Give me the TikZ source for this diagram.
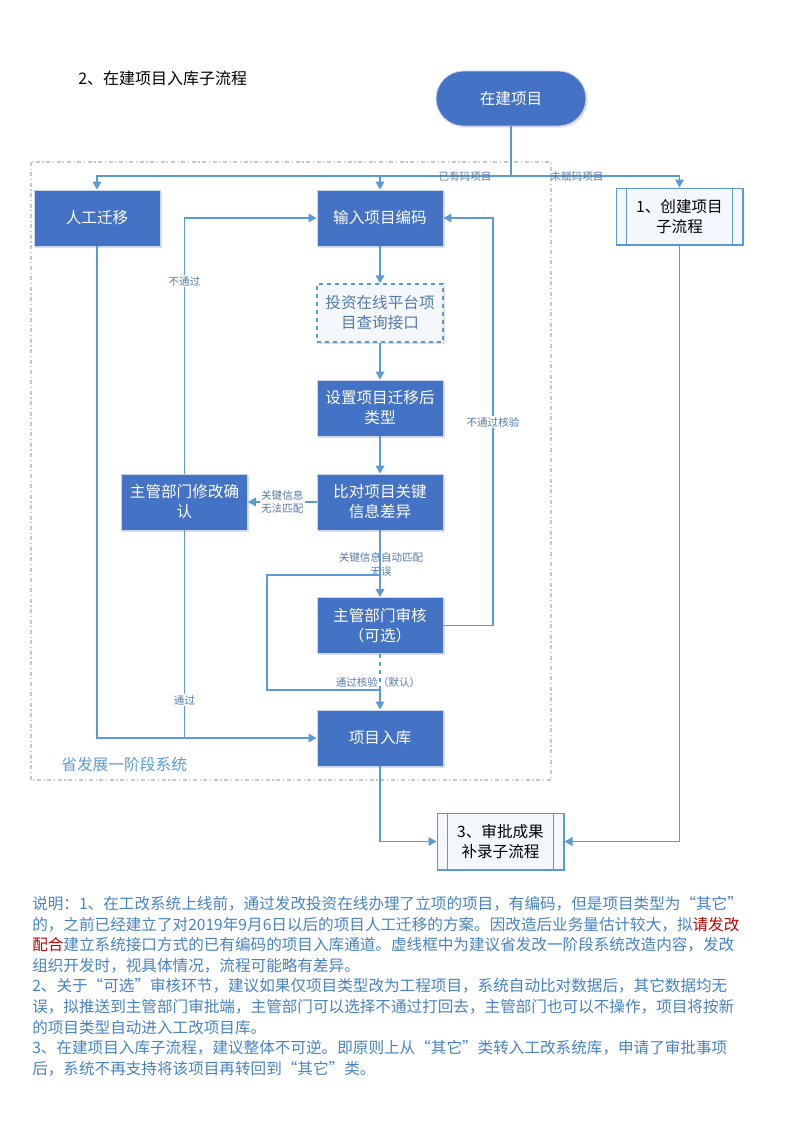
\documentclass[tikz,border=0pt]{standalone}
\usepackage{fontspec}
\setmainfont{Noto Sans CJK SC}
\usepackage{tikz}
\usetikzlibrary{positioning, calc, shapes, arrows.meta, shadows}
\definecolor{boxblue}{RGB}{68,114,196}
\definecolor{lineblue}{RGB}{91,155,213}
\definecolor{noteblue}{RGB}{70,130,196}
\definecolor{tagblue}{RGB}{84,122,170}
\definecolor{framegray}{RGB}{200,200,200}
\definecolor{darkred}{RGB}{192,0,0}
\newcommand{\oq}{\makebox[1em][r]{“}}
\newcommand{\cq}{\makebox[1em][l]{”}}

\begin{document}
\begin{tikzpicture}[x=0.75pt, y=-0.75pt]
  \tikzstyle{proc}=[draw=white!70!boxblue, fill=boxblue, text=white, line width=0.6pt, minimum width=94.5pt, minimum height=42pt, align=center, inner sep=2pt, font=\fontsize{11.7}{15}\selectfont, drop shadow={opacity=0.25, shadow xshift=1.2pt, shadow yshift=-1.2pt}]
  \tikzstyle{subproc}=[draw=lineblue, fill=lineblue!7, line width=1pt, minimum width=95pt, minimum height=42.5pt, align=center, inner sep=2pt, font=\fontsize{11.7}{15}\selectfont]
  \tikzstyle{conn}=[draw=lineblue, line width=1.1pt]
  \tikzstyle{arr}=[conn, -{Triangle[length=6pt, width=6.5pt]}]
  \tikzstyle{tag}=[font=\fontsize{7.9}{10}\selectfont, text=tagblue, inner sep=1pt, align=center]
  \useasboundingbox (0,0) rectangle (792,1121);

  % frame of the provincial system
  \draw[framegray, line width=0.8pt, dash dot] (31,162) rectangle (551,780);
  \node (sysname) at (61,764) [anchor=west, text=lineblue, font=\fontsize{11.8}{14}\selectfont, inner sep=0pt] {省发展一阶段系统};

  % title
  \node (title) at (78,78) [anchor=west, inner sep=0pt, font=\fontsize{12}{14}\selectfont] {2、在建项目入库子流程};

  % nodes
  \node (start) at (511,98.5) [proc, minimum width=112.5pt, minimum height=41.25pt, rounded corners=20.6pt] {在建项目};
  \node (manual) at (97,218) [proc] {人工迁移};
  \node (input) at (380,218) [proc] {输入项目编码};
  \node (create) at (679.5,216.5) [subproc] {1、创建项目\\子流程};
  \draw[lineblue, line width=1pt] ([xshift=8.25pt]create.north west) -- ([xshift=8.25pt]create.south west);
  \draw[lineblue, line width=1pt] ([xshift=-8.25pt]create.north east) -- ([xshift=-8.25pt]create.south east);
  \node (query) at (380,313) [proc, fill=lineblue!7, draw=lineblue, dashed, line width=1.1pt, text=tagblue, minimum height=43.5pt, drop shadow={opacity=0}] {投资在线平台项\\目查询接口};
  \node (settype) at (380,408) [proc] {设置项目迁移后\\类型};
  \node (compare) at (380,502) [proc] {比对项目关键\\信息差异};
  \node (modify) at (184.5,502) [proc] {主管部门修改确\\认};
  \node (review) at (380,625.5) [proc] {主管部门审核\\（可选）};
  \node (store) at (380,738) [proc] {项目入库};
  \node (approve) at (500.5,841.5) [subproc] {3、审批成果\\补录子流程};
  \draw[lineblue, line width=1pt] ([xshift=8.25pt]approve.north west) -- ([xshift=8.25pt]approve.south west);
  \draw[lineblue, line width=1pt] ([xshift=-8.25pt]approve.north east) -- ([xshift=-8.25pt]approve.south east);

  % split below the start
  \coordinate (split) at (511,176);
  \draw[conn] (start) -- (split);
  \draw[arr] (split) -| (manual);
  \draw[arr] (split) -| (input);
  \draw[arr] (split) -| (create);
  \node (tagcoded) at (465,176) [tag] {已有码项目};
  \node (tagnew) at (577,176) [tag] {未赋码项目};

  % main chain
  \draw[arr] (input) -- (query);
  \draw[arr] (query) -- (settype);
  \draw[arr] (settype) -- (compare);
  \draw[arr] (compare) -- node [tag, fill=white] {关键信息\\无法匹配} (modify);
  \draw[arr] (compare) -- (review);
  \node (tagmatch) at (381,564.5) [tag] {关键信息自动匹配\\无误};

  % back loops
  \draw[arr] (modify.north) |- (input.west);
  \node (tagfail) at (184.5,281) [tag, fill=white] {不通过};
  \coordinate (retr) at (493,625.5);
  \coordinate (rett) at (493,218);
  \draw[arr] (review.east) -- (retr) -- (rett) -- (input.east);
  \node (tagreject) at (493,422) [tag, fill=white] {不通过核验};

  % into the library
  \coordinate (skip) at (380,575);
  \coordinate (skipl) at (267,575);
  \coordinate (skipb) at (267,690);
  \coordinate (merge) at (380,690);
  \draw[conn] (skip) -- (skipl) -- (skipb) -- (merge);
  \draw[conn, dashed] (review) -- (merge);
  \draw[arr] (merge) -- (store);
  \node (tagpass) at (378,682) [tag] {通过核验（默认）};
  \draw[arr] (manual.south) |- (store.west);
  \draw[conn] (modify.south) -- (modify.south |- store.west);
  \node (tagok) at (184.5,700) [tag, fill=white] {通过};

  % to the approval sub-process
  \draw[arr] (store.south) |- (approve.west);
  \draw[arr] (create.south) |- (approve.east);

  % notes
  \node (notes) at (32,896) [anchor=north west, inner sep=0pt, align=left, text=noteblue, font=\fontsize{11.7}{15.45}\selectfont] {%
    说明：1、在工改系统上线前，通过发改投资在线办理了立项的项目，有编码，但是项目类型为\oq 其它\cq\\
    的，之前已经建立了对2019年9月6日以后的项目人工迁移的方案。因改造后业务量估计较大，拟\textcolor{darkred}{请发改}\\
    \textcolor{darkred}{配合}建立系统接口方式的已有编码的项目入库通道。虚线框中为建议省发改一阶段系统改造内容，发改\\
    组织开发时，视具体情况，流程可能略有差异。\\
    2、关于\oq 可选\cq 审核环节，建议如果仅项目类型改为工程项目，系统自动比对数据后，其它数据均无\\
    误，拟推送到主管部门审批端，主管部门可以选择不通过打回去，主管部门也可以不操作，项目将按新\\
    的项目类型自动进入工改项目库。\\
    3、在建项目入库子流程，建议整体不可逆。即原则上从\oq 其它\cq 类转入工改系统库，申请了审批事项\\
    后，系统不再支持将该项目再转回到\oq 其它\cq 类。};
\end{tikzpicture}
\end{document}
